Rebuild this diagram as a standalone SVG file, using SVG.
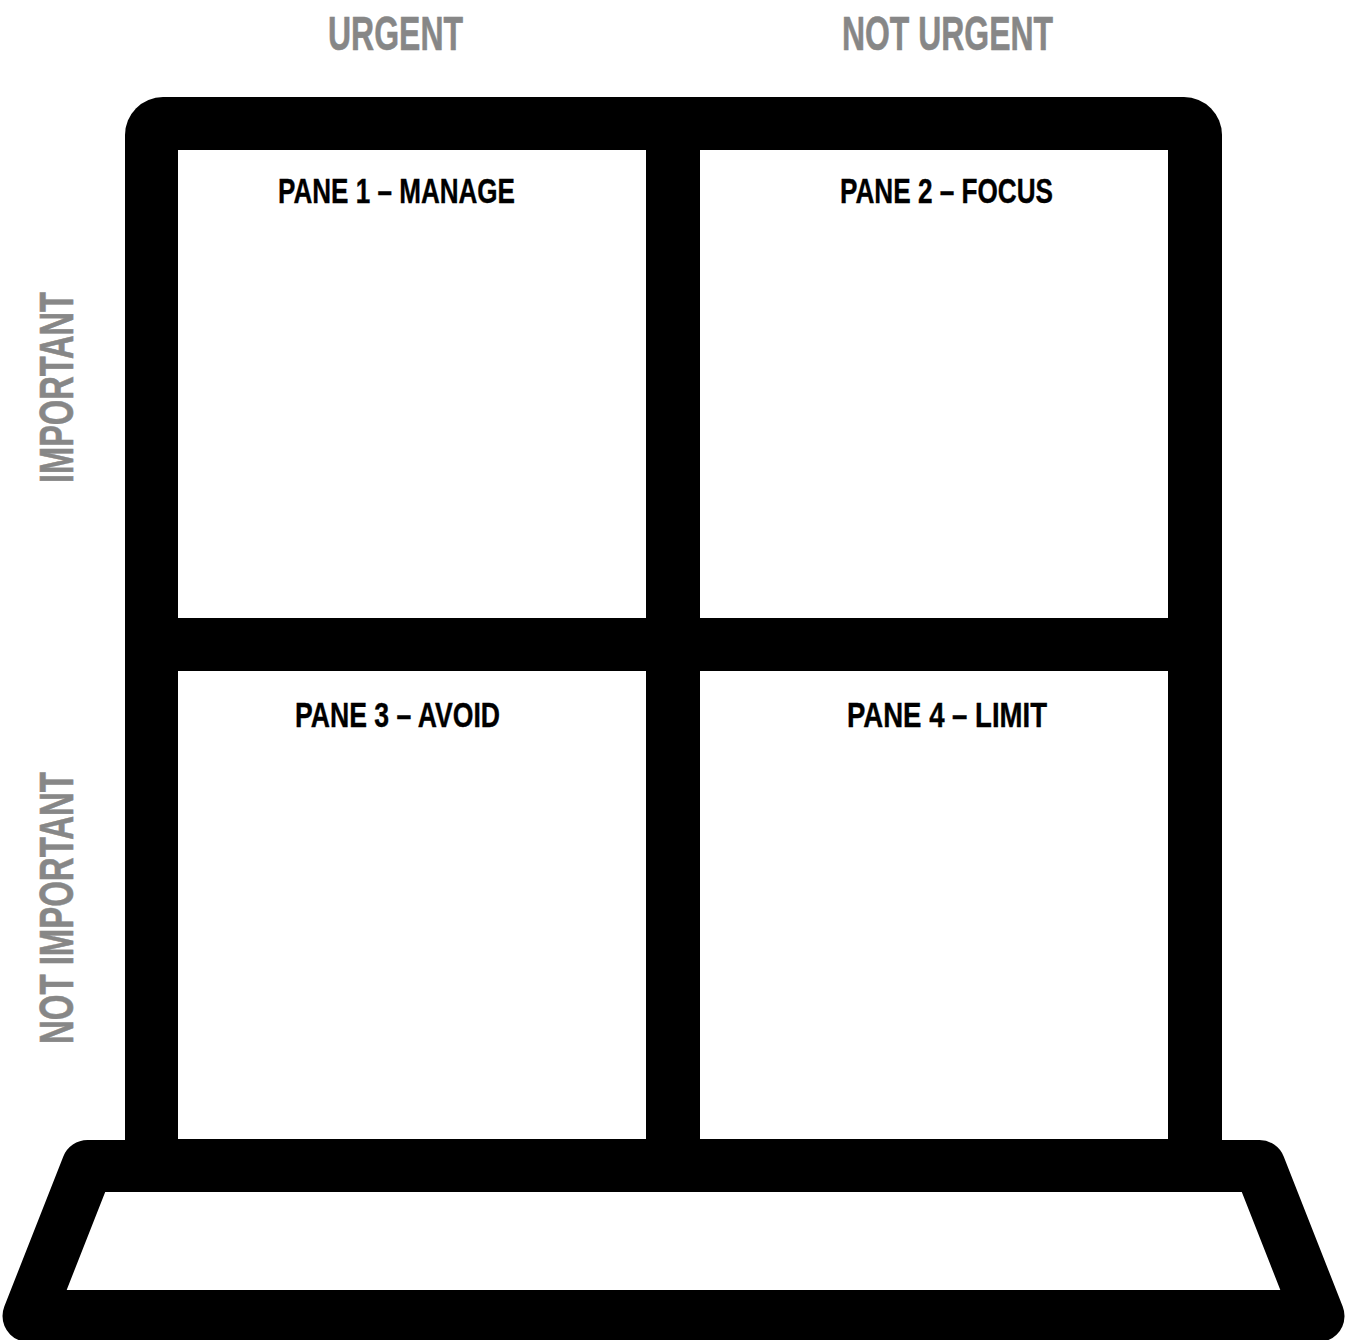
<svg xmlns="http://www.w3.org/2000/svg" width="1349" height="1340" viewBox="0 0 1349 1340">
<style>
.hdr{font-family:"Liberation Sans Narrow","Liberation Sans",Arial,sans-serif;font-weight:bold;font-size:49px;fill:#878787;stroke:#878787;stroke-width:0.6px;text-anchor:middle}
.pane-label{font-family:"Liberation Sans Narrow","Liberation Sans",Arial,sans-serif;font-weight:bold;font-size:35px;fill:#000;stroke:#000;stroke-width:0.4px;text-anchor:middle}
.pane{fill:#fff}
</style>
<rect width="1349" height="1340" fill="#fff"/>
<g id="frame">
<path d="M125,1170 V135 A38,38 0 0 1 163,97 H1184 A38,38 0 0 1 1222,135 V1170 Z" fill="#000"/>
</g>
<g id="pane1"><rect class="pane" x="178" y="150" width="468" height="468"/><text class="pane-label" x="396.5" y="203" textLength="237" lengthAdjust="spacingAndGlyphs">PANE 1 – MANAGE</text></g>
<g id="pane2"><rect class="pane" x="700" y="150" width="468" height="468"/><text class="pane-label" x="946.5" y="203" textLength="213" lengthAdjust="spacingAndGlyphs">PANE 2 – FOCUS</text></g>
<g id="pane3"><rect class="pane" x="178" y="671" width="468" height="468"/><text class="pane-label" x="397.5" y="727" textLength="205" lengthAdjust="spacingAndGlyphs">PANE 3 – AVOID</text></g>
<g id="pane4"><rect class="pane" x="700" y="671" width="468" height="468"/><text class="pane-label" x="947" y="727" textLength="200" lengthAdjust="spacingAndGlyphs">PANE 4 – LIMIT</text></g>
<g id="sill">
<path d="M87.5,1166 H1259.5 L1318.5,1316 H28.5 Z" fill="#fff" stroke="#000" stroke-width="52" stroke-linejoin="round"/>
</g>
<g id="axis-labels">
<text class="hdr" x="395.5" y="50" textLength="135" lengthAdjust="spacingAndGlyphs">URGENT</text>
<text class="hdr" x="947.5" y="50" textLength="211" lengthAdjust="spacingAndGlyphs">NOT URGENT</text>
<text class="hdr" transform="translate(73,387.5) rotate(-90)" x="0" y="0" textLength="191" lengthAdjust="spacingAndGlyphs">IMPORTANT</text>
<text class="hdr" transform="translate(73,908) rotate(-90)" x="0" y="0" textLength="272" lengthAdjust="spacingAndGlyphs">NOT IMPORTANT</text>
</g>
<g id="connectors"></g>
</svg>
